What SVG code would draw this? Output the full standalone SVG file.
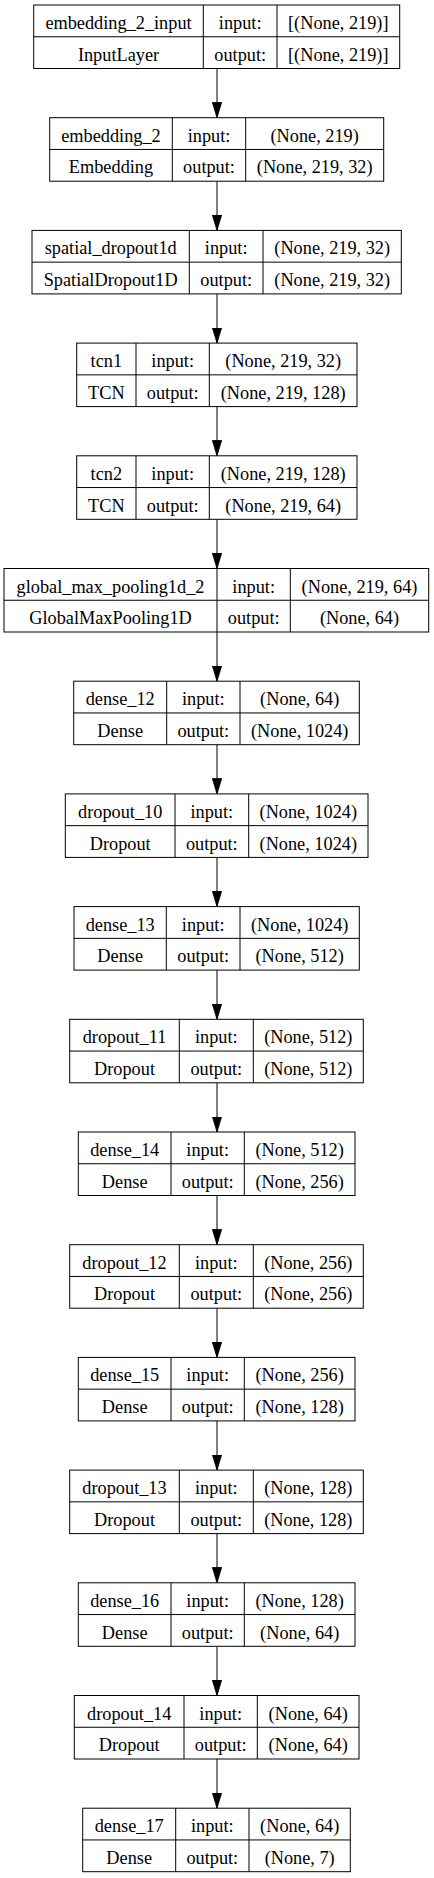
<svg xmlns="http://www.w3.org/2000/svg" width="434" height="1878" viewBox="0 0 434 1878">
<style>
.box{fill:#fff;stroke:#000;stroke-width:1}
.sep{stroke:#000;stroke-width:1}
text{font-family:"Liberation Serif",Tinos,"Times New Roman",Times,"DejaVu Serif",serif;font-size:18.3px;fill:#000;text-anchor:middle}
.edge{stroke:#000;stroke-width:1;fill:none;marker-end:url(#arr)}
</style>
<defs>
<marker id="arr" viewBox="0 0 16 10" markerWidth="16" markerHeight="10" refX="15.5" refY="5" markerUnits="userSpaceOnUse" orient="auto">
<path d="M0,0.3 L15.5,5 L0,9.7 z" fill="#000" stroke="#000" stroke-width="0.8"/>
</marker>
</defs>
<rect width="434" height="1878" fill="#fff"/>
<g id="connectors">
<line class="edge" x1="217" y1="68.5" x2="217" y2="117.7"/>
<line class="edge" x1="217" y1="181.2" x2="217" y2="230.4"/>
<line class="edge" x1="217" y1="293.9" x2="217" y2="343.1"/>
<line class="edge" x1="217" y1="406.6" x2="217" y2="455.8"/>
<line class="edge" x1="217" y1="519.3" x2="217" y2="568.5"/>
<line class="edge" x1="217" y1="632" x2="217" y2="681.2"/>
<line class="edge" x1="217" y1="744.7" x2="217" y2="793.9"/>
<line class="edge" x1="217" y1="857.4" x2="217" y2="906.6"/>
<line class="edge" x1="217" y1="970.1" x2="217" y2="1019.3"/>
<line class="edge" x1="217" y1="1082.8" x2="217" y2="1132"/>
<line class="edge" x1="217" y1="1195.5" x2="217" y2="1244.7"/>
<line class="edge" x1="217" y1="1308.2" x2="217" y2="1357.4"/>
<line class="edge" x1="217" y1="1420.9" x2="217" y2="1470.1"/>
<line class="edge" x1="217" y1="1533.6" x2="217" y2="1582.8"/>
<line class="edge" x1="217" y1="1646.3" x2="217" y2="1695.5"/>
<line class="edge" x1="217" y1="1759" x2="217" y2="1808.2"/>
</g>
<g id="embedding_2_input" transform="translate(0,5)">
<rect class="box" x="33.7" y="0" width="366" height="63.5"/>
<line class="sep" x1="33.7" y1="31.75" x2="399.7" y2="31.75"/>
<line class="sep" x1="203.3" y1="0" x2="203.3" y2="63.5"/>
<line class="sep" x1="277" y1="0" x2="277" y2="63.5"/>
<text x="118.5" y="24">embedding_2_input</text><text x="118.5" y="55.8">InputLayer</text>
<text x="240.2" y="24">input:</text><text x="240.2" y="55.8">output:</text>
<text x="338.3" y="24">[(None, 219)]</text><text x="338.3" y="55.8">[(None, 219)]</text>
</g>
<g id="embedding_2" transform="translate(0,117.7)">
<rect class="box" x="49.7" y="0" width="334" height="63.5"/>
<line class="sep" x1="49.7" y1="31.75" x2="383.7" y2="31.75"/>
<line class="sep" x1="172.3" y1="0" x2="172.3" y2="63.5"/>
<line class="sep" x1="245.7" y1="0" x2="245.7" y2="63.5"/>
<text x="111" y="24">embedding_2</text><text x="111" y="55.8">Embedding</text>
<text x="209" y="24">input:</text><text x="209" y="55.8">output:</text>
<text x="314.7" y="24">(None, 219)</text><text x="314.7" y="55.8">(None, 219, 32)</text>
</g>
<g id="spatial_dropout1d" transform="translate(0,230.4)">
<rect class="box" x="32" y="0" width="369.3" height="63.5"/>
<line class="sep" x1="32" y1="31.75" x2="401.3" y2="31.75"/>
<line class="sep" x1="189.3" y1="0" x2="189.3" y2="63.5"/>
<line class="sep" x1="263" y1="0" x2="263" y2="63.5"/>
<text x="110.7" y="24">spatial_dropout1d</text><text x="110.7" y="55.8">SpatialDropout1D</text>
<text x="226.2" y="24">input:</text><text x="226.2" y="55.8">output:</text>
<text x="332.2" y="24">(None, 219, 32)</text><text x="332.2" y="55.8">(None, 219, 32)</text>
</g>
<g id="tcn1" transform="translate(0,343.1)">
<rect class="box" x="76.7" y="0" width="280.3" height="63.5"/>
<line class="sep" x1="76.7" y1="31.75" x2="357" y2="31.75"/>
<line class="sep" x1="136" y1="0" x2="136" y2="63.5"/>
<line class="sep" x1="209.3" y1="0" x2="209.3" y2="63.5"/>
<text x="106.3" y="24">tcn1</text><text x="106.3" y="55.8">TCN</text>
<text x="172.7" y="24">input:</text><text x="172.7" y="55.8">output:</text>
<text x="283.2" y="24">(None, 219, 32)</text><text x="283.2" y="55.8">(None, 219, 128)</text>
</g>
<g id="tcn2" transform="translate(0,455.8)">
<rect class="box" x="76.7" y="0" width="280.3" height="63.5"/>
<line class="sep" x1="76.7" y1="31.75" x2="357" y2="31.75"/>
<line class="sep" x1="136" y1="0" x2="136" y2="63.5"/>
<line class="sep" x1="209.3" y1="0" x2="209.3" y2="63.5"/>
<text x="106.3" y="24">tcn2</text><text x="106.3" y="55.8">TCN</text>
<text x="172.7" y="24">input:</text><text x="172.7" y="55.8">output:</text>
<text x="283.2" y="24">(None, 219, 128)</text><text x="283.2" y="55.8">(None, 219, 64)</text>
</g>
<g id="global_max_pooling1d_2" transform="translate(0,568.5)">
<rect class="box" x="4" y="0" width="424.7" height="63.5"/>
<line class="sep" x1="4" y1="31.75" x2="428.7" y2="31.75"/>
<line class="sep" x1="217" y1="0" x2="217" y2="63.5"/>
<line class="sep" x1="290.3" y1="0" x2="290.3" y2="63.5"/>
<text x="110.5" y="24">global_max_pooling1d_2</text><text x="110.5" y="55.8">GlobalMaxPooling1D</text>
<text x="253.7" y="24">input:</text><text x="253.7" y="55.8">output:</text>
<text x="359.5" y="24">(None, 219, 64)</text><text x="359.5" y="55.8">(None, 64)</text>
</g>
<g id="dense_12" transform="translate(0,681.2)">
<rect class="box" x="73.7" y="0" width="285.6" height="63.5"/>
<line class="sep" x1="73.7" y1="31.75" x2="359.3" y2="31.75"/>
<line class="sep" x1="166.7" y1="0" x2="166.7" y2="63.5"/>
<line class="sep" x1="240" y1="0" x2="240" y2="63.5"/>
<text x="120.2" y="24">dense_12</text><text x="120.2" y="55.8">Dense</text>
<text x="203.3" y="24">input:</text><text x="203.3" y="55.8">output:</text>
<text x="299.7" y="24">(None, 64)</text><text x="299.7" y="55.8">(None, 1024)</text>
</g>
<g id="dropout_10" transform="translate(0,793.9)">
<rect class="box" x="65.3" y="0" width="302.7" height="63.5"/>
<line class="sep" x1="65.3" y1="31.75" x2="368" y2="31.75"/>
<line class="sep" x1="175" y1="0" x2="175" y2="63.5"/>
<line class="sep" x1="248.7" y1="0" x2="248.7" y2="63.5"/>
<text x="120.2" y="24">dropout_10</text><text x="120.2" y="55.8">Dropout</text>
<text x="211.8" y="24">input:</text><text x="211.8" y="55.8">output:</text>
<text x="308.3" y="24">(None, 1024)</text><text x="308.3" y="55.8">(None, 1024)</text>
</g>
<g id="dense_13" transform="translate(0,906.6)">
<rect class="box" x="74" y="0" width="285.3" height="63.5"/>
<line class="sep" x1="74" y1="31.75" x2="359.3" y2="31.75"/>
<line class="sep" x1="166.3" y1="0" x2="166.3" y2="63.5"/>
<line class="sep" x1="240" y1="0" x2="240" y2="63.5"/>
<text x="120.2" y="24">dense_13</text><text x="120.2" y="55.8">Dense</text>
<text x="203.2" y="24">input:</text><text x="203.2" y="55.8">output:</text>
<text x="299.7" y="24">(None, 1024)</text><text x="299.7" y="55.8">(None, 512)</text>
</g>
<g id="dropout_11" transform="translate(0,1019.3)">
<rect class="box" x="69.7" y="0" width="293.6" height="63.5"/>
<line class="sep" x1="69.7" y1="31.75" x2="363.3" y2="31.75"/>
<line class="sep" x1="179.3" y1="0" x2="179.3" y2="63.5"/>
<line class="sep" x1="253.3" y1="0" x2="253.3" y2="63.5"/>
<text x="124.5" y="24">dropout_11</text><text x="124.5" y="55.8">Dropout</text>
<text x="216.3" y="24">input:</text><text x="216.3" y="55.8">output:</text>
<text x="308.3" y="24">(None, 512)</text><text x="308.3" y="55.8">(None, 512)</text>
</g>
<g id="dense_14" transform="translate(0,1132)">
<rect class="box" x="78.3" y="0" width="276.7" height="63.5"/>
<line class="sep" x1="78.3" y1="31.75" x2="355" y2="31.75"/>
<line class="sep" x1="171" y1="0" x2="171" y2="63.5"/>
<line class="sep" x1="244.3" y1="0" x2="244.3" y2="63.5"/>
<text x="124.7" y="24">dense_14</text><text x="124.7" y="55.8">Dense</text>
<text x="207.7" y="24">input:</text><text x="207.7" y="55.8">output:</text>
<text x="299.7" y="24">(None, 512)</text><text x="299.7" y="55.8">(None, 256)</text>
</g>
<g id="dropout_12" transform="translate(0,1244.7)">
<rect class="box" x="69.7" y="0" width="293.6" height="63.5"/>
<line class="sep" x1="69.7" y1="31.75" x2="363.3" y2="31.75"/>
<line class="sep" x1="179.3" y1="0" x2="179.3" y2="63.5"/>
<line class="sep" x1="253.3" y1="0" x2="253.3" y2="63.5"/>
<text x="124.5" y="24">dropout_12</text><text x="124.5" y="55.8">Dropout</text>
<text x="216.3" y="24">input:</text><text x="216.3" y="55.8">output:</text>
<text x="308.3" y="24">(None, 256)</text><text x="308.3" y="55.8">(None, 256)</text>
</g>
<g id="dense_15" transform="translate(0,1357.4)">
<rect class="box" x="78.3" y="0" width="276.7" height="63.5"/>
<line class="sep" x1="78.3" y1="31.75" x2="355" y2="31.75"/>
<line class="sep" x1="171" y1="0" x2="171" y2="63.5"/>
<line class="sep" x1="244.3" y1="0" x2="244.3" y2="63.5"/>
<text x="124.7" y="24">dense_15</text><text x="124.7" y="55.8">Dense</text>
<text x="207.7" y="24">input:</text><text x="207.7" y="55.8">output:</text>
<text x="299.7" y="24">(None, 256)</text><text x="299.7" y="55.8">(None, 128)</text>
</g>
<g id="dropout_13" transform="translate(0,1470.1)">
<rect class="box" x="69.7" y="0" width="293.6" height="63.5"/>
<line class="sep" x1="69.7" y1="31.75" x2="363.3" y2="31.75"/>
<line class="sep" x1="179.3" y1="0" x2="179.3" y2="63.5"/>
<line class="sep" x1="253.3" y1="0" x2="253.3" y2="63.5"/>
<text x="124.5" y="24">dropout_13</text><text x="124.5" y="55.8">Dropout</text>
<text x="216.3" y="24">input:</text><text x="216.3" y="55.8">output:</text>
<text x="308.3" y="24">(None, 128)</text><text x="308.3" y="55.8">(None, 128)</text>
</g>
<g id="dense_16" transform="translate(0,1582.8)">
<rect class="box" x="78.3" y="0" width="276.7" height="63.5"/>
<line class="sep" x1="78.3" y1="31.75" x2="355" y2="31.75"/>
<line class="sep" x1="171" y1="0" x2="171" y2="63.5"/>
<line class="sep" x1="244.3" y1="0" x2="244.3" y2="63.5"/>
<text x="124.7" y="24">dense_16</text><text x="124.7" y="55.8">Dense</text>
<text x="207.7" y="24">input:</text><text x="207.7" y="55.8">output:</text>
<text x="299.7" y="24">(None, 128)</text><text x="299.7" y="55.8">(None, 64)</text>
</g>
<g id="dropout_14" transform="translate(0,1695.5)">
<rect class="box" x="74.3" y="0" width="284.7" height="63.5"/>
<line class="sep" x1="74.3" y1="31.75" x2="359" y2="31.75"/>
<line class="sep" x1="184" y1="0" x2="184" y2="63.5"/>
<line class="sep" x1="257.3" y1="0" x2="257.3" y2="63.5"/>
<text x="129.2" y="24">dropout_14</text><text x="129.2" y="55.8">Dropout</text>
<text x="220.7" y="24">input:</text><text x="220.7" y="55.8">output:</text>
<text x="308.2" y="24">(None, 64)</text><text x="308.2" y="55.8">(None, 64)</text>
</g>
<g id="dense_17" transform="translate(0,1808.2)">
<rect class="box" x="82.7" y="0" width="267.6" height="63.5"/>
<line class="sep" x1="82.7" y1="31.75" x2="350.3" y2="31.75"/>
<line class="sep" x1="175.7" y1="0" x2="175.7" y2="63.5"/>
<line class="sep" x1="249" y1="0" x2="249" y2="63.5"/>
<text x="129.2" y="24">dense_17</text><text x="129.2" y="55.8">Dense</text>
<text x="212.3" y="24">input:</text><text x="212.3" y="55.8">output:</text>
<text x="299.7" y="24">(None, 64)</text><text x="299.7" y="55.8">(None, 7)</text>
</g>
</svg>
